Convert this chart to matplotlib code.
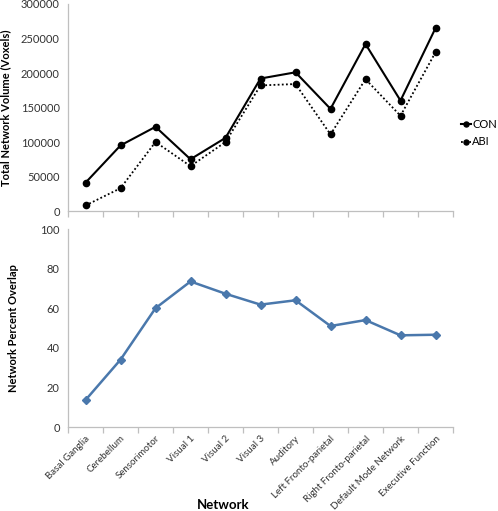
import matplotlib
matplotlib.use("Agg")
import matplotlib.pyplot as plt
import numpy as np
from matplotlib.ticker import FixedLocator

plt.rcParams['font.family'] = ['Lato', 'DejaVu Sans']

networks = ["Basal Ganglia", "Cerebellum", "Sensorimotor", "Visual 1", "Visual 2",
            "Visual 3", "Auditory", "Left Fronto-parietal", "Right Fronto-parietal",
            "Default Mode Network", "Executive Function"]
con = [41000, 95000, 122000, 75000, 106000, 192000, 201000, 148000, 242000, 160000, 265000]
abi = [8000, 33000, 100000, 65000, 100000, 182000, 184000, 111000, 191000, 138000, 230000]
overlap = [13.6, 34.0, 60.0, 73.5, 67.3, 61.8, 64.0, 51.0, 54.0, 46.3, 46.6]

top_yticks = [0, 50000, 100000, 150000, 200000, 250000, 300000]
bot_yticks = [0, 20, 40, 60, 80, 100]

fig = plt.figure(figsize=(4.98, 5.11), dpi=100)
ax1 = fig.add_axes([68/498, 1-211/511, 385/498, 207/511])
ax2 = fig.add_axes([68/498, 1-427/511, 385/498, 198/511])

x = np.arange(len(networks))
gray = '#BFBFBF'
txt = '#333333'

ax1.plot(x, con, color='black', lw=1.5, marker='o', ms=4.5, label='CON')
ax1.plot(x, abi, color='black', lw=1.3, ls=(0, (1, 1.3)), marker='o', ms=4.5, label='ABI')
ax1.set_ylim(0, 300000)
ax1.set_yticks(top_yticks)
ax1.set_yticklabels([str(v) for v in top_yticks])
ax1.set_ylabel('Total Network Volume (Voxels)', fontsize=8, fontweight='bold', color='black', labelpad=7)
leg = ax1.legend(loc='center left', bbox_to_anchor=(1.02, 0.375), frameon=False,
                 fontsize=8, handlelength=0.9, handletextpad=0.15, labelspacing=0.55,
                 borderaxespad=0, borderpad=0, markerscale=0.8)

ax2.plot(x, overlap, color='#4A78AC', lw=1.8, marker='D', ms=4)
ax2.set_ylim(0, 100)
ax2.set_yticks(bot_yticks)
ax2.set_ylabel('Network Percent Overlap', fontsize=8, fontweight='bold', color='black', labelpad=15)
fig.text(223/498, 1-505/511, 'Network', fontsize=9.5, fontweight='bold', color='black',
         ha='center', va='center')

for ax in (ax1, ax2):
    ax.set_xlim(-0.5, len(networks) - 0.5)
    for s in ('top', 'right'):
        ax.spines[s].set_visible(False)
    for s in ('left', 'bottom'):
        ax.spines[s].set_color(gray)
        ax.spines[s].set_linewidth(0.9)
    ax.tick_params(axis='y', length=0, labelsize=8, colors=txt, pad=6)
    ax.xaxis.set_major_locator(FixedLocator(x))
    ax.xaxis.set_minor_locator(FixedLocator(np.arange(len(networks) + 1) - 0.5))
    ax.tick_params(axis='x', which='major', length=0)
    ax.tick_params(axis='x', which='minor', length=4, color=gray, width=0.9)

ax1.set_xticklabels([''] * len(networks))
ax2.set_xticklabels(networks, rotation=45, ha='right', rotation_mode='anchor',
                    fontsize=7, color=txt)
ax2.tick_params(axis='x', which='major', pad=5)

fig.savefig('out.png', dpi=100)
